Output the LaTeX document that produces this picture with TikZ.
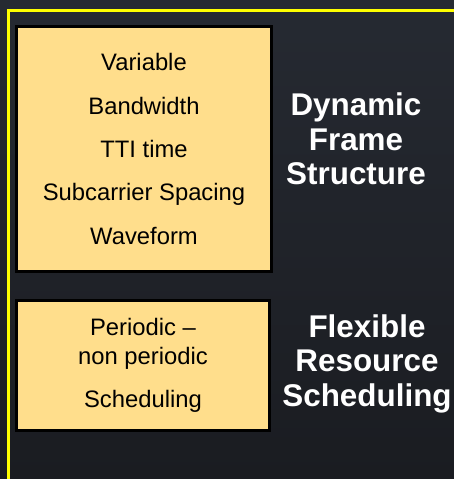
\documentclass[tikz,border=0pt]{standalone}
\usepackage{fontspec}
\setmainfont{Liberation Sans}
\usetikzlibrary{shadows}
\definecolor{slatebg}{RGB}{38,42,50}
\definecolor{slatebgdark}{RGB}{26,28,33}
\definecolor{boxfill}{RGB}{255,222,140}
\definecolor{rimyellow}{RGB}{255,255,0}

\begin{document}
\begin{tikzpicture}[
      x=0.5pt, y=-0.5pt,
      featbox/.style={rectangle, draw=black, line width=1.3pt, fill=boxfill, align=center, inner sep=0pt, font=\fontsize{11.9}{21.7}\selectfont, drop shadow={shadow xshift=0.6pt, shadow yshift=-0.6pt, opacity=0.7, fill=black}},
      heading/.style={text=white, align=center, inner sep=0pt, font=\bfseries\fontsize{15.7}{17.25}\selectfont},
      rim/.style={draw=rimyellow, line width=1.4pt}
  ]
  % slide background
  \shade[top color=slatebg, bottom color=slatebgdark] (0,0) rectangle (454,479);
  \useasboundingbox (0,0) rectangle (454,479);
  \begin{scope}
    \clip (0,0) rectangle (454,479);
    \draw[rim] (8.7,10.8) rectangle (470,500);
  \end{scope}

  \node[featbox, minimum width=127.7pt, minimum height=122.7pt] (frame) at (144,149) {Variable\\Bandwidth\\TTI time\\Subcarrier Spacing\\Waveform};
  \node[heading] (frametitle) at (356,139) {Dynamic\\Frame\\Structure};
  \node[featbox, minimum width=126.7pt, minimum height=65.2pt] (sched) at (143,365.5) {Periodic --\\[-7.2pt]non periodic\\Scheduling};
  \node[heading] (schedtitle) at (367,363.5) {Flexible\\Resource\\Scheduling};
\end{tikzpicture}
\end{document}
